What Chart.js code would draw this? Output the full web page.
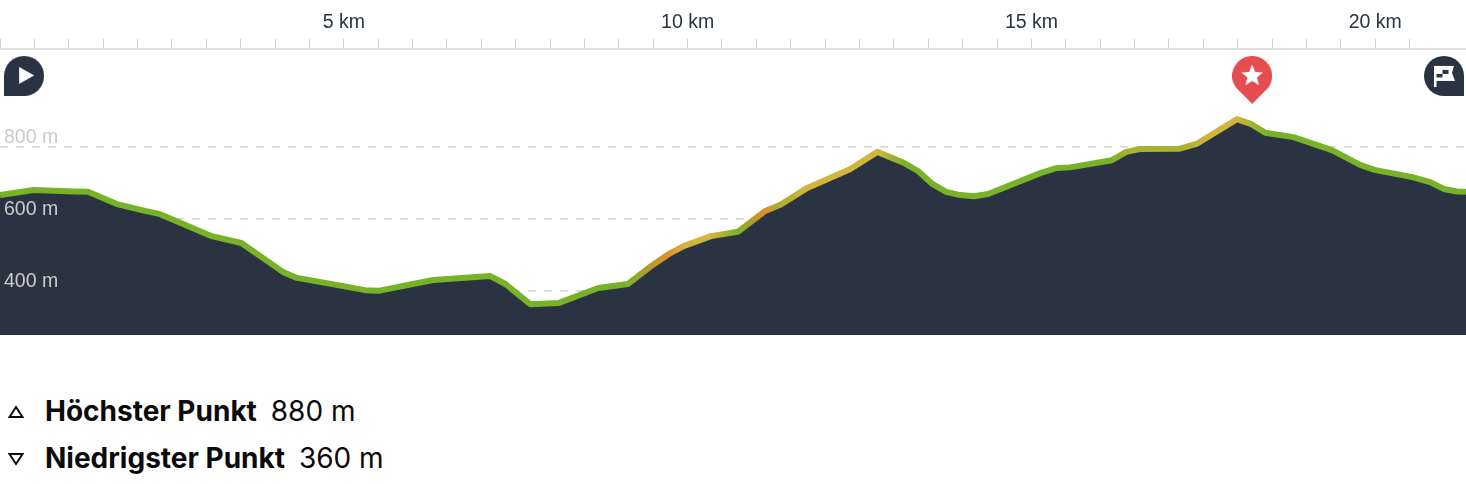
<!DOCTYPE html>
<html lang="de">

<head>
    <meta charset="UTF-8">
    <title>Höhenprofil</title>
    <script src="https://cdn.jsdelivr.net/npm/chart.js"></script>
    <style>
        * {
            margin: 0;
            padding: 0;
        }

        body {
            background-color: #fff;
            width: 1466px;
            height: 484px;
            overflow: hidden;
            position: relative;
        }

        #chartBox {
            width: 1466px;
            height: 335px;
        }

        .stat {
            position: absolute;
            left: 45px;
            font-family: Inter, sans-serif;
            font-size: 28px;
            line-height: 32px;
            color: #0b0b0b;
            white-space: nowrap;
        }

        .stat b {
            font-weight: 700;
            margin-right: 6px;
        }

        .stat svg {
            position: absolute;
            left: -38px;
            top: 10px;
        }
    </style>
</head>

<body>
    <div id="chartBox">
        <canvas id="profile" width="1466" height="335"></canvas>
    </div>

    <div class="stat" style="top: 395px;">
        <svg width="18" height="14"><path d="M9 2 L15.5 12 L2.5 12 Z" fill="none" stroke="#0b0b0b" stroke-width="2" /></svg>
        <b>Höchster Punkt</b> <span>880 m</span>
    </div>
    <div class="stat" style="top: 442px;">
        <svg width="18" height="14"><path d="M2.5 2 L15.5 2 L9 12 Z" fill="none" stroke="#0b0b0b" stroke-width="2" /></svg>
        <b>Niedrigster Punkt</b> <span>360 m</span>
    </div>

    <script>
        // profile
        const distanceKm = [0, 0.49, 1.09, 1.28, 1.70, 2.11, 2.33, 3.08, 3.51, 4.12, 4.32, 4.65, 5.31, 5.50, 6.30, 7.13, 7.35, 7.71, 8.12, 8.70, 9.13, 9.45, 9.75, 9.95, 10.34, 10.73, 11.13, 11.35, 11.74, 12.36, 12.76, 13.15, 13.35, 13.56, 13.76, 13.96, 14.17, 14.37, 15.13, 15.36, 15.56, 16.17, 16.38, 16.58, 17.16, 17.40, 17.99, 18.20, 18.40, 18.81, 19.37, 19.78, 19.99, 20.54, 20.80, 21.00, 21.19, 21.32];
        const elevationM = [665, 679, 675, 674, 640, 621, 612, 551, 532, 451, 435, 424, 401, 399, 429, 440, 418, 362, 365, 407, 418, 465, 504, 524, 551, 563, 621, 638, 685, 737, 785, 754, 732, 696, 674, 665, 662, 668, 726, 740, 742, 762, 785, 793, 794, 807, 876, 862, 838, 826, 790, 749, 735, 715, 701, 682, 675, 674];

        const elevationTicks = [400, 600, 800];

        // where the line changes colour along the route
        const colourKm = [0, 9.13, 9.7, 9.95, 10.34, 10.73, 11.13, 11.35, 11.74, 12.76, 13.15, 16.17, 16.4, 17.16, 17.6, 17.99, 18.40, 21.32];
        const colourNames = ['green', 'green', 'orange', 'yellow', 'yellow', 'green', 'orange', 'olive', 'yellow', 'yellow', 'green', 'green', 'olive', 'olive', 'yellow', 'yellow', 'green', 'green'];

        const markerKm = [0.35, 18.21, 21];
        const markerM = [996, 985, 996];

        const palette = {
            green: '#78b226',
            olive: '#a8b030',
            yellow: '#d2b53c',
            orange: '#e28c2a'
        };
        const navy = '#2a3342';

        function pinCanvas(w, h) {
            const c = document.createElement('canvas');
            c.width = w;
            c.height = h;
            return c;
        }

        // dark circle with one square corner, white icon added afterwards
        function cornerPin(corner) {
            const c = pinCanvas(40, 40);
            const g = c.getContext('2d');
            g.fillStyle = navy;
            g.beginPath();
            g.arc(20, 20, 20, 0, Math.PI * 2);
            g.fill();
            g.fillRect(corner == 'left' ? 0 : 20, 20, 20, 20);
            g.fillStyle = '#fff';
            return c;
        }

        function startPin() {
            const c = cornerPin('left');
            const g = c.getContext('2d');
            g.beginPath();
            g.moveTo(15, 11);
            g.lineTo(30, 19.5);
            g.lineTo(15, 28);
            g.closePath();
            g.fill();
            return c;
        }

        function finishPin() {
            const c = cornerPin('right');
            const g = c.getContext('2d');
            g.fillRect(10, 10, 2.5, 21);
            g.beginPath();
            g.moveTo(12, 10);
            g.lineTo(30, 10);
            g.lineTo(28, 17);
            g.lineTo(31, 25);
            g.lineTo(12, 25);
            g.closePath();
            g.fill();
            g.fillStyle = navy;
            g.fillRect(12.5, 18, 6, 3.5);
            g.fillRect(18.5, 14, 6, 4);
            return c;
        }

        function starPin() {
            const c = pinCanvas(40, 48);
            const g = c.getContext('2d');
            g.fillStyle = '#e54d4f';
            g.beginPath();
            g.arc(20, 20, 20, Math.PI * 0.8, Math.PI * 0.2);
            g.lineTo(20, 48);
            g.closePath();
            g.fill();
            g.fillStyle = '#fff';
            g.beginPath();
            for (let i = 0; i < 10; i++) {
                const r = i % 2 ? 5 : 11.5;
                const a = -Math.PI / 2 + i * Math.PI / 5;
                g.lineTo(20 + r * Math.cos(a), 20 + r * Math.sin(a));
            }
            g.closePath();
            g.fill();
            return c;
        }

        const pins = [startPin(), starPin(), finishPin()];

        function lineGradient(context) {
            const chart = context.chart;
            if (!chart.chartArea) {
                return palette.green;
            }
            const xScale = chart.scales.x;
            const grad = chart.ctx.createLinearGradient(xScale.left, 0, xScale.right, 0);
            colourKm.forEach(function (km, i) {
                grad.addColorStop(km / xScale.max, palette[colourNames[i]]);
            });
            return grad;
        }

        const labelFont = { family: 'Liberation Sans', size: 19.5 };

        new Chart(document.getElementById('profile'), {
            type: 'line',
            data: {
                datasets: [{
                    label: 'Marker',
                    data: markerKm.map((km, i) => ({ x: km, y: markerM[i] })),
                    showLine: false,
                    pointStyle: pins,
                    pointRadius: 20,
                    clip: false
                }, {
                    label: 'Höhe',
                    data: distanceKm.map((km, i) => ({ x: km, y: elevationM[i] })),
                    borderColor: lineGradient,
                    borderWidth: 6,
                    borderJoinStyle: 'round',
                    backgroundColor: navy,
                    fill: 'start',
                    pointRadius: 0,
                    tension: 0
                }]
            },
            options: {
                responsive: false,
                animation: false,
                events: [],
                layout: { padding: 0, autoPadding: false },
                plugins: {
                    legend: { display: false },
                    tooltip: { enabled: false }
                },
                scales: {
                    x: {
                        type: 'linear',
                        position: 'top',
                        min: 0,
                        max: 21.32,
                        afterFit: function (scale) {
                            scale.height = 49;
                            scale.paddingLeft = 0;
                            scale.paddingRight = 0;
                        },
                        grid: {
                            drawOnChartArea: false,
                            tickLength: 10,
                            color: '#cfcfcf',
                            lineWidth: 1
                        },
                        border: { color: '#dedede', width: 2 },
                        ticks: {
                            stepSize: 0.5,
                            autoSkip: false,
                            maxRotation: 0,
                            padding: 5,
                            color: navy,
                            font: labelFont,
                            callback: function (value) {
                                return value > 0 && value % 5 == 0 ? value + ' km' : '';
                            }
                        }
                    },
                    y: {
                        min: 276.4,
                        max: 1070.8,
                        afterFit: function (scale) {
                            scale.width = 0;
                            scale.paddingTop = 0;
                            scale.paddingBottom = 0;
                        },
                        afterBuildTicks: function (scale) {
                            scale.ticks = elevationTicks.map(v => ({ value: v }));
                        },
                        grid: {
                            drawTicks: false,
                            color: '#d4d4d4',
                            lineWidth: 1.5
                        },
                        border: { display: false, dash: [8, 8] },
                        ticks: {
                            mirror: true,
                            z: 1,
                            padding: 4,
                            labelOffset: -9,
                            color: '#cbcbcb',
                            font: labelFont,
                            callback: function (value) {
                                return value + ' m';
                            }
                        }
                    }
                }
            }
        });
    </script>
</body>

</html>
